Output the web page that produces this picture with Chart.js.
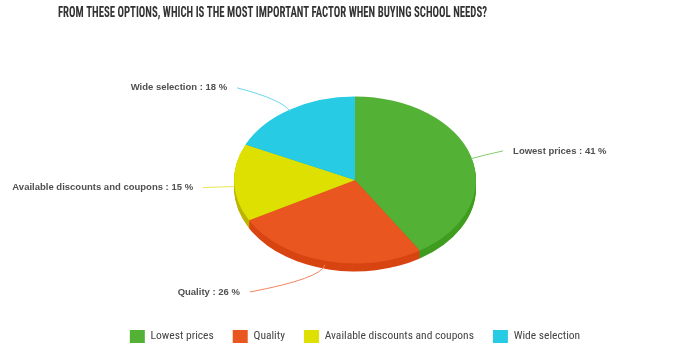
<!DOCTYPE html>
<html>
<head>
<meta charset="utf-8">
<title>School needs survey</title>
<script src="https://cdn.jsdelivr.net/npm/chart.js@4.4.1/dist/chart.umd.min.js"></script>
<style>
  html, body { margin: 0; padding: 0; background: #fff; }
  #wrap { width: 680px; height: 348px; }
</style>
</head>
<body>
<div id="wrap"><canvas id="surveyPie" width="680" height="348"></canvas></div>
<script>
/* ---- survey data ---- */
const chartTitle = "FROM THESE OPTIONS, WHICH IS THE MOST IMPORTANT FACTOR WHEN BUYING SCHOOL NEEDS?";
const factors = ["Lowest prices", "Quality", "Available discounts and coupons", "Wide selection"];
const shares = [41, 26, 15, 18];

/* ---- look ---- */
const topColors = ["#53b236", "#ea5620", "#dde000", "#27cbe3"];
const sideColors = ["#3f9d1f", "#d84512", "#bcb500", "#1eaac2"];
const lineColors = ["#86cc70", "#f08560", "#e6e650", "#6cd8ea"];
const labelTails = [5, 68, 3, 38]; // horizontal run at the end of each leader line

const TILT = 0.69;     // vertical squash of the pie face
const DEPTH = 8;       // side wall thickness in px
const LABEL_OUT = 28;  // how far past the rim the labels sit
const TITLE_WIDTH = 429;
const condensed = "'Roboto Condensed', 'DejaVu Sans Condensed', sans-serif";

function tilt(ctx, arc) {
  ctx.translate(arc.x, arc.y);
  ctx.scale(1, TILT);
  ctx.translate(-arc.x, -arc.y);
}

function slicePath(ctx, arc) {
  ctx.beginPath();
  ctx.moveTo(arc.x, arc.y);
  ctx.arc(arc.x, arc.y, arc.outerRadius, arc.startAngle, arc.endAngle);
  ctx.closePath();
}

/* --------------------------------------------
   3D look: side wall + squashed top face,
   then outside labels with leader lines
--------------------------------------------- */
const tiltedPie = {
  id: "tiltedPie",
  beforeDatasetsDraw(chart) {
    const ctx = chart.ctx;
    const arcs = chart.getDatasetMeta(0).data;
    for (let d = DEPTH; d >= 1; d--) {
      ctx.save();
      ctx.translate(0, d);
      tilt(ctx, arcs[0]);
      arcs.forEach((arc, i) => {
        slicePath(ctx, arc);
        ctx.fillStyle = sideColors[i];
        ctx.fill();
      });
      ctx.restore();
    }
    ctx.save();
    tilt(ctx, arcs[0]);
  },
  afterDatasetsDraw(chart) {
    const ctx = chart.ctx;
    ctx.restore();

    const arcs = chart.getDatasetMeta(0).data;
    ctx.save();
    ctx.font = "bold 9.5px 'Liberation Sans', Arial, sans-serif";
    ctx.textBaseline = "middle";
    ctx.lineWidth = 1;
    arcs.forEach((arc, i) => {
      const mid = (arc.startAngle + arc.endAngle) / 2;
      const cos = Math.cos(mid), sin = Math.sin(mid);
      const drop = sin > 0 ? DEPTH * 0.5 : 2;
      const rx = arc.outerRadius, ry = arc.outerRadius * TILT;
      const at = (ext) => ({ x: arc.x + (rx + ext) * cos, y: arc.y + (ry + ext) * sin + drop });
      const side = cos >= 0 ? 1 : -1;

      const start = at(0);
      const ctrl = at(14);
      const end = at(LABEL_OUT);
      end.x += side * labelTails[i];

      ctx.strokeStyle = lineColors[i];
      ctx.beginPath();
      ctx.moveTo(start.x, start.y);
      ctx.quadraticCurveTo(ctrl.x, ctrl.y, end.x, end.y);
      ctx.stroke();

      ctx.fillStyle = "#505050";
      ctx.textAlign = side > 0 ? "left" : "right";
      ctx.fillText(factors[i] + " : " + shares[i] + " %", end.x + side * 10, end.y);
    });
    ctx.restore();
  },
  afterDraw(chart) {
    // heading, squeezed to its column width
    const ctx = chart.ctx;
    ctx.save();
    ctx.font = "bold 14px " + condensed;
    ctx.fillStyle = "#333";
    ctx.textAlign = "left";
    ctx.textBaseline = "middle";
    const w = ctx.measureText(chartTitle).width;
    ctx.translate(58, 13);
    ctx.scale(Math.min(1, TITLE_WIDTH / w), 1);
    ctx.fillText(chartTitle, 0, 0);
    ctx.restore();
  }
};

new Chart(document.getElementById("surveyPie"), {
  type: "pie",
  data: {
    labels: factors,
    datasets: [{
      data: shares,
      backgroundColor: topColors,
      borderWidth: 0,
      radius: 121
    }]
  },
  options: {
    responsive: false,
    animation: false,
    events: [],
    layout: { padding: { top: 49, left: 30, right: 0, bottom: -5 } },
    plugins: {
      title: { display: false },
      tooltip: { enabled: false },
      legend: {
        position: "bottom",
        labels: {
          boxWidth: 15,
          boxHeight: 13,
          padding: 19,
          color: "#444",
          font: { family: condensed, size: 11.5 }
        }
      }
    }
  },
  plugins: [tiltedPie]
});
</script>
</body>
</html>
